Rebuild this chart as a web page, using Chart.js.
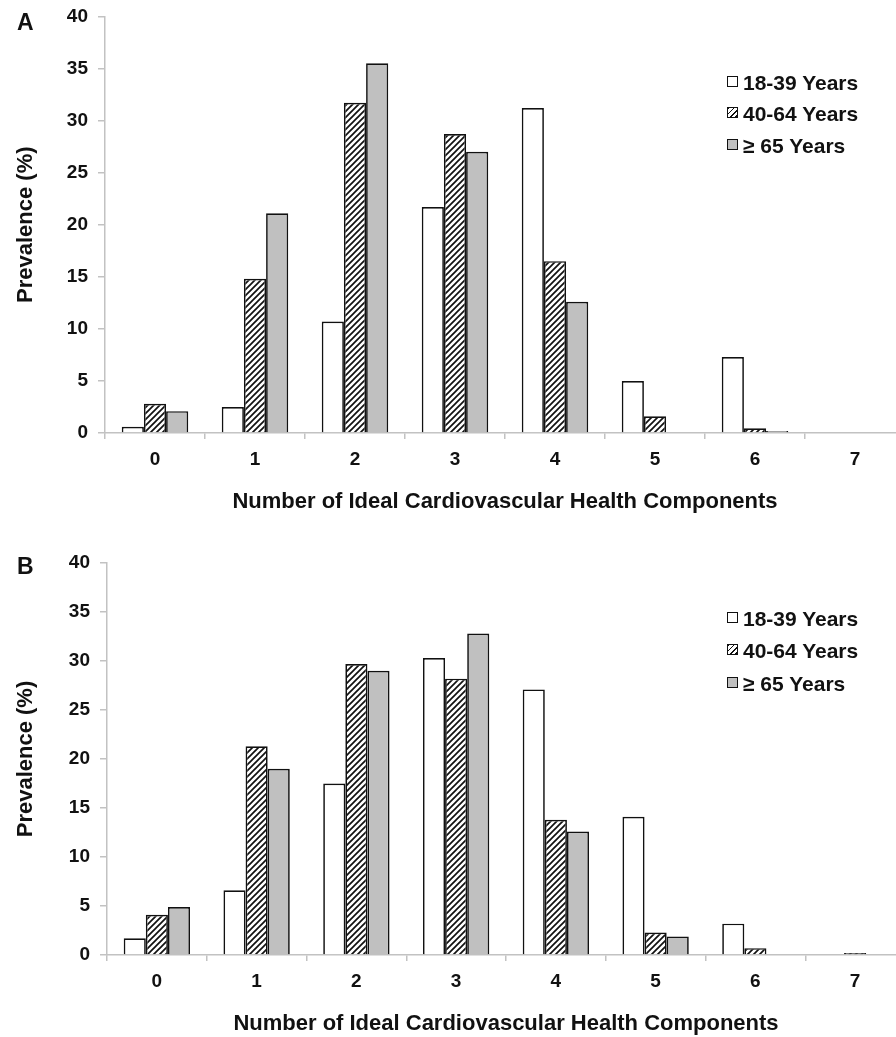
<!DOCTYPE html>
<html>
<head>
<meta charset="utf-8">
<script src="https://cdn.jsdelivr.net/npm/chart.js@4.4.1/dist/chart.umd.min.js"></script>
<style>
  html, body { margin:0; padding:0; background:#fff; overflow:hidden; }
  #wrap { position:relative; width:896px; height:1037px; overflow:hidden; }
  canvas { position:absolute; left:0; }
  .panel { position:absolute; left:17px; font:bold 23px "Liberation Sans", Arial, sans-serif; line-height:23px; color:#111; }
  .leg { position:absolute; left:727px; font:bold 21px "Liberation Sans", Arial, sans-serif; line-height:21px; color:#111; white-space:nowrap; }
  .leg i { display:inline-block; width:9px; height:9px; border:1.5px solid #111; vertical-align:middle; margin-right:5px; position:relative; top:-2px; }
</style>
</head>
<body>
<div id="wrap">
  <canvas id="chartA" width="910" height="525" style="top:-5px;width:910px;height:525px"></canvas>
  <canvas id="chartB" width="910" height="517" style="top:520px;width:910px;height:517px"></canvas>
  <div class="panel" style="top:11px">A</div>
  <div class="panel" style="top:555px">B</div>
  <div id="legA"></div>
  <div id="legB"></div>
</div>
<script>
// ---- data ----
const categories = ['0', '1', '2', '3', '4', '5', '6', '7'];
const seriesNames = ['18-39 Years', '40-64 Years', '\u2265 65 Years'];
const yTicks = [0, 5, 10, 15, 20, 25, 30, 35, 40];
const xTitle = 'Number of Ideal Cardiovascular Health Components';
const yTitle = 'Prevalence (%)';

// Panel A
const a18to39 = [0.6, 2.5, 10.7, 21.7, 31.2, 5.0, 7.3, 0];
const a40to64 = [2.8, 14.8, 31.7, 28.7, 16.5, 1.6, 0.45, 0];
const a65plus = [2.1, 21.1, 35.5, 27.0, 12.6, 0, 0.2, 0];

// Panel B
const b18to39 = [1.7, 6.6, 17.5, 30.3, 27.1, 14.1, 3.2, 0];
const b40to64 = [4.1, 21.3, 29.7, 28.2, 13.8, 2.3, 0.7, 0.2];
const b65plus = [4.9, 19.0, 29.0, 32.8, 12.6, 1.9, 0, 0];

// ---- styling helpers ----
const FONT = '"Liberation Sans", Arial, sans-serif';
const AXIS_GRAY = '#c2c2c2';

function hatchPattern() {
  const c = document.createElement('canvas');
  c.width = 6; c.height = 6;
  const x = c.getContext('2d');
  x.fillStyle = '#fff'; x.fillRect(0, 0, 6, 6);
  x.strokeStyle = '#111'; x.lineWidth = 1.7;
  x.beginPath();
  x.moveTo(-1, 7); x.lineTo(7, -1);
  x.moveTo(-1, 1); x.lineTo(1, -1);
  x.moveTo(5, 7); x.lineTo(7, 5);
  x.stroke();
  return x.createPattern(c, 'repeat');
}

function makeChart(id, d1, d2, d3, opts) {
  const ctx = document.getElementById(id).getContext('2d');
  const fills = ['#ffffff', hatchPattern(), '#c0c0c0'];
  const data = [d1, d2, d3];
  return new Chart(ctx, {
    type: 'bar',
    data: {
      labels: categories,
      datasets: seriesNames.map((n, i) => ({
        label: n,
        data: data[i],
        backgroundColor: fills[i],
        borderColor: '#111',
        borderWidth: 1.7,
        barPercentage: 1.0,
        categoryPercentage: 0.665
      }))
    },
    options: {
      responsive: false,
      animation: false,
      devicePixelRatio: 1,
      layout: { padding: { top: opts.padTop, right: 5, bottom: opts.padBottom, left: 0 } },
      plugins: { legend: { display: false }, tooltip: { enabled: false } },
      scales: {
        x: {
          grid: { display: true, drawOnChartArea: false, drawTicks: true, tickLength: 6, color: AXIS_GRAY, lineWidth: 1.5, offset: true },
          border: { display: true, color: AXIS_GRAY, width: 1.5 },
          ticks: { color: '#111', font: { family: FONT, size: 19, weight: 'bold' }, padding: 9, maxRotation: 0 },
          title: { display: true, text: xTitle, color: '#111', font: { family: FONT, size: 22, weight: 'bold' }, padding: { top: 0, bottom: 0 } },
          afterFit: s => { s.height = 82; }
        },
        y: {
          min: 0, max: 40,
          afterBuildTicks: s => { s.ticks = yTicks.map(v => ({ value: v })); },
          grid: { display: true, drawOnChartArea: false, drawTicks: true, tickLength: 7, color: AXIS_GRAY, lineWidth: 1.5 },
          border: { display: true, color: AXIS_GRAY, width: 1.5 },
          ticks: { color: '#111', font: { family: FONT, size: 19, weight: 'bold' }, padding: 10 },
          title: { display: true, text: yTitle, color: '#111', font: { family: FONT, size: 22, weight: 'bold' }, padding: { top: 13, bottom: 0 } },
          afterFit: s => { s.width = opts.yWidth; }
        }
      }
    }
  });
}

makeChart('chartA', a18to39, a40to64, a65plus, { padTop: 10, padBottom: 5, yWidth: 105 });
makeChart('chartB', b18to39, b40to64, b65plus, { padTop: 43, padBottom: 0, yWidth: 107 });

// ---- legends (HTML, built from series names) ----
const boxStyles = [
  'background:#fff',
  'background:repeating-linear-gradient(135deg,#111 0 1.3px,#fff 1.3px 3.6px)',
  'background:#c0c0c0'
];
function buildLegend(id, centers) {
  const el = document.getElementById(id);
  seriesNames.forEach((n, i) => {
    const d = document.createElement('div');
    d.className = 'leg';
    d.style.top = (centers[i] - 10.5) + 'px';
    d.innerHTML = '<i style="' + boxStyles[i] + '"></i>';
    d.appendChild(document.createTextNode(n));
    el.appendChild(d);
  });
}
buildLegend('legA', [82, 113, 145]);
buildLegend('legB', [618, 650, 683]);
</script>
</body>
</html>
